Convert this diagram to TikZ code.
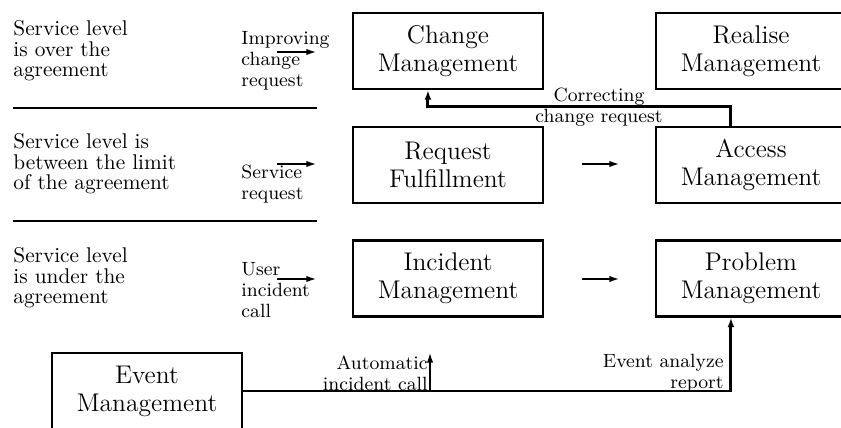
\documentclass[tikz,border=0pt]{standalone}
\usetikzlibrary{calc,arrows.meta}
\begin{document}
\begin{tikzpicture}[x=0.4695pt,y=-0.4695pt,
  box/.style={draw,line width=1pt,minimum width=89.2pt,minimum height=35.7pt,inner sep=0pt,align=center,font={\fontsize{12}{13.1}\selectfont}},
  lefttext/.style={anchor=west,align=left,inner sep=0pt,font={\fontsize{10}{9.7}\selectfont}},
  lab/.style={inner sep=0pt,font={\fontsize{9}{9.8}\selectfont}},
  arr/.style={line width=0.6pt,-{Latex[length=4.5pt,width=3pt]}},
  conn/.style={line width=1.4pt},
  sep/.style={line width=1pt}]
\useasboundingbox (0,0) rectangle (841,428);
\begin{scope}
\clip (0,0) rectangle (841,428);
\node[box] (chg) at (448,51) {Change\\Management};
\node[box] (rea) at (751,51) {Realise\\Management};
\node[box] (req) at (448,165) {Request\\Fulfillment};
\node[box] (acc) at (751,165) {Access\\Management};
\node[box] (inc) at (448,278.5) {Incident\\Management};
\node[box] (prb) at (751,278.5) {Problem\\Management};
\node[box] (ev) at (147,391) {Event\\Management};
\end{scope}

\node[lefttext] (t1) at (13,51) {Service level\\is over the\\agreement};
\node[lefttext] (t2) at (13,164) {Service level is\\between the limit\\of the agreement};
\node[lefttext] (t3) at (13,278) {Service level\\is under the\\agreement};

\coordinate (s1a) at (13,108); \coordinate (s1b) at (317,108);
\coordinate (s2a) at (13,221); \coordinate (s2b) at (317,221);
\draw[sep] (s1a) -- (s1b);
\draw[sep] (s2a) -- (s2b);

\node[lab,anchor=west,align=left] (l1) at (241,61) {Improving\\change\\request};
\node[lab,anchor=west,align=left] (l2) at (241,184) {Service\\request};
\node[lab,anchor=west,align=left] (l3) at (241,290) {User\\incident\\call};

\draw[arr] ($(chg.west)+(-75,1)$) -- ($(chg.west)+(-36,1)$);
\draw[arr] ($(req.west)+(-75,-1)$) -- ($(req.west)+(-36,-1)$);
\draw[arr] ($(inc.west)+(-75,0.5)$) -- ($(inc.west)+(-36,0.5)$);

\draw[arr] ($(req.east)+(38,-1)$) -- ($(acc.west)+(-36,-1)$);
\draw[arr] ($(inc.east)+(38,0.5)$) -- ($(prb.west)+(-36,0.5)$);

\draw[conn,-{Latex[length=4.5pt,width=3.2pt]}] ($(acc.north west)+(76,0)$) -- ++(0,-19) -| ($(chg.south west)+(76,0)$);
\node[lab] (cor1) at (599,97) {Correcting};
\node[lab] (cor2) at (599,118) {change request};

\draw[conn,-{Latex[length=4.5pt,width=3.2pt]}] (ev.east) -| ($(prb.south west)+(76,0)$);
\coordinate (au1) at (430,392);
\coordinate (au2) at (430,353);
\draw[arr] (au1) -- (au2);
\node[lab,anchor=east,align=right] (aul) at (428,373) {Automatic\\incident call};
\node[lab,anchor=east,align=right] (evl) at (724,373) {Event analyze\\report};
\end{tikzpicture}
\end{document}
